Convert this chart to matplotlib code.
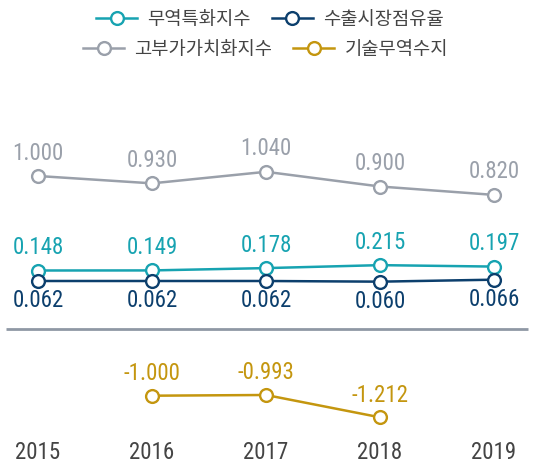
import matplotlib
matplotlib.use("Agg")
import matplotlib.pyplot as plt
from matplotlib.lines import Line2D
from matplotlib import font_manager

# ---------------- data ----------------
years = ["2015", "2016", "2017", "2018", "2019"]
trade_spec = [0.148, 0.149, 0.178, 0.215, 0.197]       # 무역특화지수
export_share = [0.062, 0.062, 0.062, 0.060, 0.066]     # 수출시장점유율
value_added = [1.000, 0.930, 1.040, 0.900, 0.820]      # 고부가가치화지수
tech_trade = [None, -1.000, -0.993, -1.212, None]      # 기술무역수지
series_names = ["무역특화지수", "수출시장점유율", "고부가가치화지수", "기술무역수지"]

# ---------------- style ----------------
W, H = 539, 466
C_TEAL = "#17a3b1"
C_NAVY = "#0c3f6d"
C_GRAY = "#9aa0aa"
C_GOLD = "#c4960f"
C_TEXT = "#444444"
C_SEP = "#8f98a5"

available = {f.name for f in font_manager.fontManager.ttflist}
narrow = [f for f in ["Roboto Condensed", "Liberation Sans Narrow"] if f in available]
NUM_FONT = narrow + ["Roboto", "DejaVu Sans"]
NUM_SIZE = 16.5 if narrow else 15.5
KR_FONT = ["Noto Sans CJK KR", "DejaVu Sans"]

fig = plt.figure(figsize=(W / 100, H / 100), dpi=100)
fig.patch.set_facecolor("white")

x0_px, step_px = 38.0, 114.0
xlim = (-x0_px / step_px, (W - x0_px) / step_px)

host = fig.add_axes([0, 0, 1, 1])
host.set_xlim(*xlim)
host.set_ylim(H, 0)
host.axis("off")

# separator line
host.plot([xlim[0] + 6 / step_px, xlim[0] + 528 / step_px], [329.3, 329.3],
          color=C_SEP, lw=2.0, solid_capstyle="butt")

# year labels
for i, y in enumerate(years):
    host.text(i, 452.7, y, ha="center", va="center", fontsize=NUM_SIZE,
              color=C_TEXT, family=NUM_FONT)

# each series on its own band axis: (values, color, px/unit, anchor value, anchor px, label offset pt)
specs = [
    (value_added, C_GRAY, 105.0, 1.000, 176.0, 16.5),
    (trade_spec, C_TEAL, 80.0, 0.148, 270.5, 16.5),
    (export_share, C_NAVY, 330.0, 0.062, 281.0, -14.0),
    (tech_trade, C_GOLD, 102.0, -1.000, 395.7, 16.0),
]

mk = dict(marker="o", markersize=9.2, markerfacecolor="white",
          markeredgewidth=1.7, lw=1.8)

for vals, col, s, v0, p0, off in specs:
    a = fig.add_axes([0, 0, 1, 1], facecolor="none")
    a.set_xlim(*xlim)
    a.set_ylim(v0 - (H - p0) / s, v0 + p0 / s)
    a.axis("off")
    xs = [i for i, v in enumerate(vals) if v is not None]
    ys = [v for v in vals if v is not None]
    a.plot(xs, ys, color=col, markeredgecolor=col, zorder=3, **mk)
    for xi, yi in zip(xs, ys):
        a.annotate(f"{yi:.3f}", (xi, yi), xytext=(0, off), textcoords="offset points",
                   ha="center", va="center", fontsize=NUM_SIZE, color=col, family=NUM_FONT)

# legends (two centred rows)
def handle(col):
    return Line2D([], [], color=col, markeredgecolor=col, **mk)

leg_kw = dict(loc="center", frameon=False, ncol=2, borderpad=0,
              handlelength=2.2, handletextpad=0.55, columnspacing=1.1,
              prop={"family": KR_FONT, "size": 13.5}, labelcolor=C_TEXT)
fig.legend([handle(C_TEAL), handle(C_NAVY)], series_names[:2],
           bbox_to_anchor=(0.501, 1 - 19 / H), **leg_kw)
fig.legend([handle(C_GRAY), handle(C_GOLD)], series_names[2:],
           bbox_to_anchor=(0.4926, 1 - 49 / H), **leg_kw)

fig.savefig("out.png", dpi=100)
